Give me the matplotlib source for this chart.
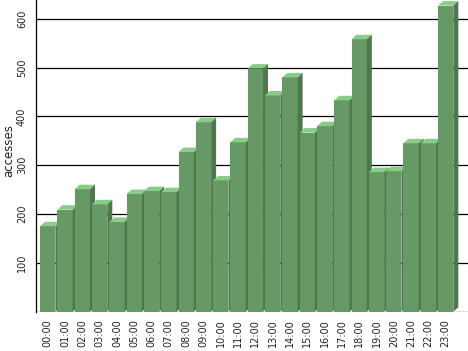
import matplotlib
matplotlib.use("Agg")
import matplotlib.pyplot as plt
from matplotlib.patches import Polygon, Rectangle

hours = ["%02d:00" % h for h in range(24)]
accesses = [175, 209, 251, 220, 184, 241, 247, 245, 327, 388, 269, 347,
            498, 443, 480, 367, 380, 433, 558, 286, 288, 345, 345, 627]
yticks = [100, 200, 300, 400, 500, 600]

FRONT = "#669966"
TOP = "#88CC88"
SIDE = "#4D774D"

W, H = 468, 351
fig = plt.figure(figsize=(W / 100, H / 100), dpi=100)
ax_l, ax_b, ax_w, ax_h = 36, 39, 432, 312
ax = fig.add_axes([ax_l / W, ax_b / H, ax_w / W, ax_h / H])

xlim = (-0.679, 24.29)
ylim = (-0.5, 638.5)
ax.set_xlim(*xlim)
ax.set_ylim(*ylim)

# depth offsets in data units (pixel based)
dx = 5.0 * (xlim[1] - xlim[0]) / ax_w
dy = 4.5 * (ylim[1] - ylim[0]) / ax_h
bw = 15.3 / 17.3

for i, v in enumerate(accesses):
    x0 = i - bw / 2
    x1 = i + bw / 2
    ax.add_patch(Rectangle((x0, 0), bw, v, facecolor=FRONT, edgecolor="none", zorder=3))
    ax.add_patch(Polygon([(x0, v), (x0 + dx, v + dy), (x1 + dx, v + dy), (x1, v)],
                         closed=True, facecolor=TOP, edgecolor="none", zorder=3))
    ax.add_patch(Polygon([(x1, 0), (x1, v), (x1 + dx, v + dy), (x1 + dx, dy)],
                         closed=True, facecolor=SIDE, edgecolor="none", zorder=3))

for t in [0] + yticks:
    ax.axhline(t, color="black", lw=0.9, zorder=1)

for s in ["top", "right", "bottom"]:
    ax.spines[s].set_visible(False)
ax.spines["left"].set_color("black")
ax.spines["left"].set_linewidth(0.9)

ax.set_yticks(yticks)
ax.set_yticklabels([str(t) for t in yticks], rotation=90, va="center",
                   fontsize=7, family="DejaVu Sans", color="#222222")
ax.set_xticks(range(len(hours)))
ax.set_xticklabels(hours, rotation=90, fontsize=7, family="DejaVu Sans", color="#222222")
ax.tick_params(axis="y", length=0, pad=6.5)
ax.tick_params(axis="x", length=0, pad=5)

fig.text(8.5 / W, 1 - 150.5 / H, "accesses", rotation=90, ha="center", va="center",
         fontsize=8.5, family="DejaVu Sans", color="#222222")

fig.savefig("out.png", dpi=100)
